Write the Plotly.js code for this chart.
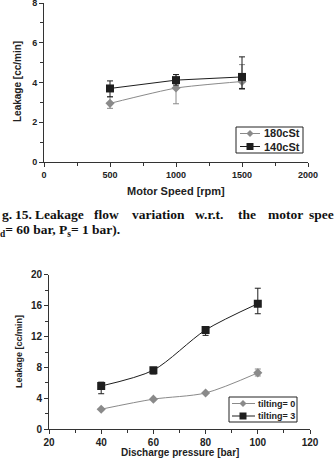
<!DOCTYPE html>
<html>
<head>
<meta charset="utf-8">
<script src="https://cdn.plot.ly/plotly-3.0.1.min.js"></script>
<style>
  html, body { margin: 0; padding: 0; background: #fff; }
  #chart { width: 335px; height: 460px; }
</style>
</head>
<body>
<div id="chart"></div>
<script>
// Fig. 15: leakage vs motor speed
const speedRpm = [500, 1000, 1500];
const leak180 = [2.95, 3.72, 4.05];
const leak180ErrPlus = [0.33, 0.68, 0.85];
const leak180ErrMinus = [0.25, 0.79, 0.40];
const leak140 = [3.70, 4.12, 4.28];
const leak140ErrPlus = [0.38, 0.28, 1.01];
const leak140ErrMinus = [0.42, 0.25, 0.58];

// Fig. 16: leakage vs discharge pressure
const pressureBar = [40, 60, 80, 100];
const leakTilt0 = [2.6, 3.9, 4.7, 7.3];
const leakTilt0ErrPlus = [0, 0, 0, 0.5];
const leakTilt0ErrMinus = [0, 0, 0, 0.4];
const leakTilt3 = [5.6, 7.65, 12.85, 16.25];
const leakTilt3ErrPlus = [0.5, 0.35, 0.4, 2.0];
const leakTilt3ErrMinus = [1.0, 0.5, 0.7, 1.3];

const seriesNames = ['180cSt', '140cSt', 'tilting= 0', 'tilting= 3'];

const GRAY = '#8a8a8a';
const DARK = '#1e1e1e';
const W = 335, H = 460;
const px = x => x / W;
const py = y => 1 - y / H;

function errBars(plus, minus, color) {
  return { type: 'data', symmetric: false, array: plus, arrayminus: minus,
           color: color, thickness: 1, width: 3 };
}

const traces = [
  { x: speedRpm, y: leak180, xaxis: 'x', yaxis: 'y', mode: 'lines+markers', name: seriesNames[0],
    line: { color: GRAY, width: 1, shape: 'spline', smoothing: 0.6 },
    marker: { symbol: 'diamond', size: 7, color: GRAY },
    error_y: errBars(leak180ErrPlus, leak180ErrMinus, GRAY) },
  { x: speedRpm, y: leak140, xaxis: 'x', yaxis: 'y', mode: 'lines+markers', name: seriesNames[1],
    line: { color: DARK, width: 1 },
    marker: { symbol: 'square', size: 8, color: DARK },
    error_y: errBars(leak140ErrPlus, leak140ErrMinus, DARK) },
  { x: pressureBar, y: leakTilt0, xaxis: 'x2', yaxis: 'y2', mode: 'lines+markers', name: seriesNames[2],
    line: { color: GRAY, width: 1, shape: 'spline', smoothing: 0.8 },
    marker: { symbol: 'diamond', size: 7, color: GRAY },
    error_y: errBars(leakTilt0ErrPlus, leakTilt0ErrMinus, GRAY) },
  { x: pressureBar, y: leakTilt3, xaxis: 'x2', yaxis: 'y2', mode: 'lines+markers', name: seriesNames[3],
    line: { color: DARK, width: 1, shape: 'spline', smoothing: 0.8 },
    marker: { symbol: 'square', size: 8, color: DARK },
    error_y: errBars(leakTilt3ErrPlus, leakTilt3ErrMinus, DARK) }
];

function axisStyle(extra, fontSize) {
  return Object.assign({
    showline: true, linecolor: '#333', linewidth: 1, mirror: false,
    showgrid: false, zeroline: false,
    ticks: 'outside', ticklen: 4, tickwidth: 1, tickcolor: '#333',
    ticklabeloverflow: 'allow',
    tickfont: { family: 'Liberation Sans, Arial, sans-serif', size: fontSize, color: '#222', weight: 'bold' },
    fixedrange: true
  }, extra);
}

const sansBold = size => ({ family: 'Liberation Sans, Arial, sans-serif', size: size, color: '#222', weight: 'bold' });
const serifBold = { family: 'Liberation Serif, Times New Roman, serif', size: 13.5, color: '#111', weight: 'bold' };

const annotations = [];
function label(text, x, y, font, opts) {
  annotations.push(Object.assign({
    text: text, xref: 'paper', yref: 'paper', x: px(x), y: py(y),
    xanchor: 'center', yanchor: 'middle', showarrow: false, font: font
  }, opts || {}));
}

// axis titles
label('Motor Speed [rpm]', 176, 191, sansBold(11));
label('Leakage [cc/min]', 18, 82, sansBold(10), { textangle: -90 });
label('Discharge pressure [bar]', 180, 452, sansBold(10));
label('Leakage [cc/min]', 19, 352, sansBold(9), { textangle: -90 });

// caption, justified word by word
const captionLine1 = ['g.', '15.', 'Leakage', 'flow', 'variation', 'w.r.t.', 'the', 'motor', 'spee'];
const captionStarts = [0, 13, 33, 92, 130, 193, 236, 266, 307];
captionLine1.forEach((w, i) => label(w, captionStarts[i], 214, serifBold, { xanchor: 'left' }));
label('<sub>d</sub>= 60 bar, P<sub>s</sub>= 1 bar).', -2, 230, serifBold, { xanchor: 'left' });

// legends
const shapes = [];
function legendBox(x0, x1, y0, y1) {
  shapes.push({ type: 'rect', xref: 'paper', yref: 'paper', x0: px(x0), x1: px(x1), y0: py(y1), y1: py(y0),
                line: { color: '#222', width: 1 }, fillcolor: '#fff', layer: 'above' });
}
function legendRow(xl0, xl1, xm, y, color, symbol, text, textX, fontSize) {
  shapes.push({ type: 'line', xref: 'paper', yref: 'paper', x0: px(xl0), x1: px(xl1), y0: py(y), y1: py(y),
                line: { color: color, width: 1 }, layer: 'above' });
  const r = 3.5;
  if (symbol === 'square') {
    shapes.push({ type: 'rect', xref: 'paper', yref: 'paper', x0: px(xm - r), x1: px(xm + r),
                  y0: py(y + r), y1: py(y - r), fillcolor: color, line: { width: 0 }, layer: 'above' });
  } else {
    shapes.push({ type: 'path', xref: 'paper', yref: 'paper',
                  path: `M ${px(xm - r)} ${py(y)} L ${px(xm)} ${py(y - r)} L ${px(xm + r)} ${py(y)} L ${px(xm)} ${py(y + r)} Z`,
                  fillcolor: color, line: { width: 0 }, layer: 'above' });
  }
  label(text, textX, y, sansBold(fontSize), { xanchor: 'left' });
}
legendBox(236, 303, 127, 153);
legendRow(240, 260, 250, 133.5, GRAY, 'diamond', seriesNames[0], 262, 11);
legendRow(240, 260, 250, 146.5, DARK, 'square', seriesNames[1], 262, 11);
legendBox(229, 297, 397, 422);
legendRow(232, 255, 243, 403.5, GRAY, 'diamond', seriesNames[2], 256, 9);
legendRow(232, 255, 243, 416, DARK, 'square', seriesNames[3], 256, 9);

const layout = {
  width: W, height: H, autosize: false,
  margin: { l: 0, r: 0, t: 0, b: 0, pad: 0 },
  paper_bgcolor: '#fff', plot_bgcolor: '#fff',
  showlegend: false,
  xaxis: axisStyle({ domain: [px(44), px(308)], anchor: 'y', range: [0, 2000], dtick: 500, tick0: 0,
                     minor: { dtick: 250, ticks: 'outside', ticklen: 3, tickcolor: '#333' } }, 9),
  yaxis: axisStyle({ domain: [py(162), py(3)], anchor: 'x', range: [0, 8], dtick: 2, tick0: 0,
                     minor: { dtick: 1, ticks: 'outside', ticklen: 3, tickcolor: '#333' } }, 9),
  xaxis2: axisStyle({ domain: [px(49), px(310)], anchor: 'y2', range: [20, 120], dtick: 20, tick0: 20,
                      minor: { dtick: 10, ticks: 'outside', ticklen: 3, tickcolor: '#333' } }, 10),
  yaxis2: axisStyle({ domain: [py(429.3), py(274.7)], anchor: 'x2', range: [0, 20], dtick: 4, tick0: 0,
                      minor: { dtick: 2, ticks: 'outside', ticklen: 3, tickcolor: '#333' } }, 10),
  annotations: annotations,
  shapes: shapes
};

Plotly.newPlot('chart', traces, layout, { staticPlot: true, displayModeBar: false });
</script>
</body>
</html>
